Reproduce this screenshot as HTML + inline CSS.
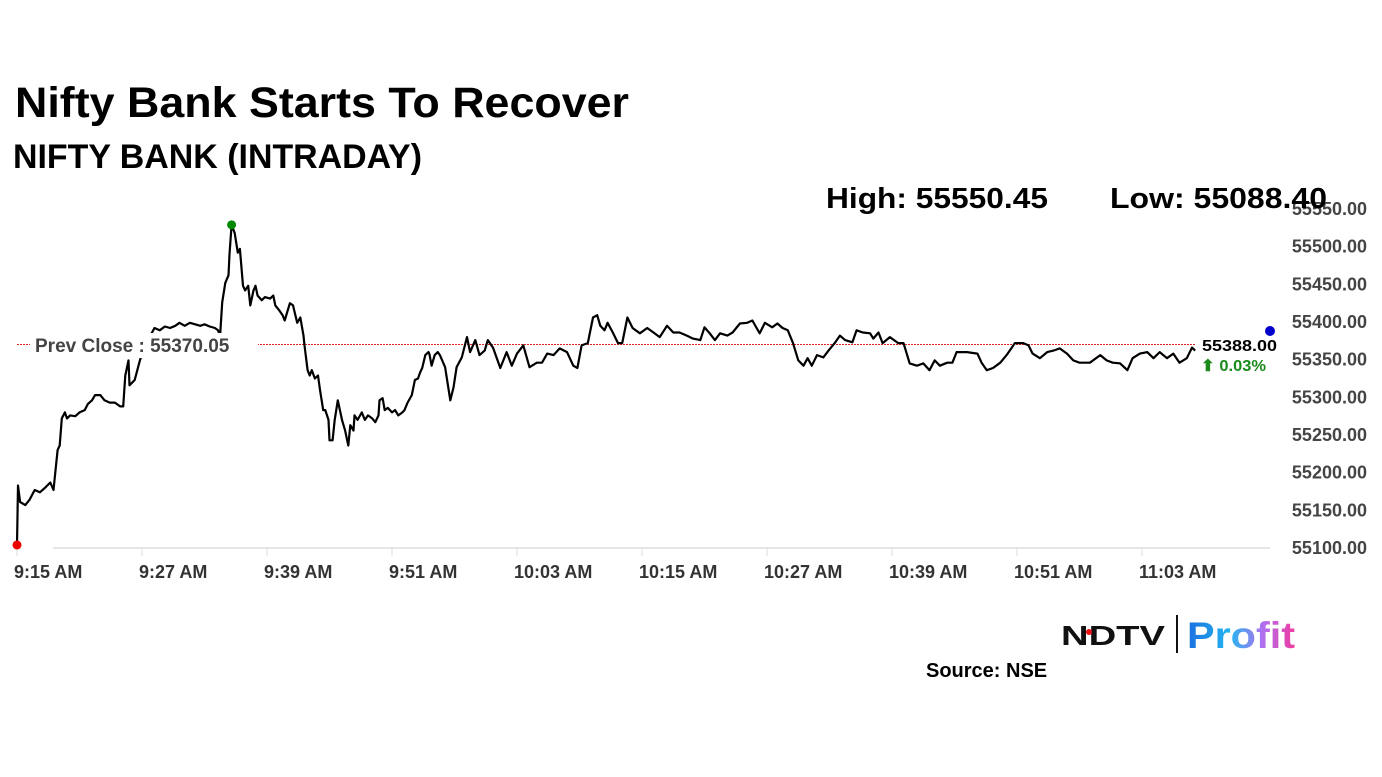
<!DOCTYPE html>
<html><head><meta charset="utf-8"><style>
html,body{margin:0;padding:0;background:#fff;}
svg{display:block;font-family:"Liberation Sans",sans-serif;}
</style></head><body>
<svg id="chart" width="1382" height="777" viewBox="0 0 1382 777" xmlns="http://www.w3.org/2000/svg">
<rect width="1382" height="777" fill="#fff"/>
<text x="15" y="117" font-size="43" font-weight="bold" fill="#000" textLength="614" lengthAdjust="spacingAndGlyphs">Nifty Bank Starts To Recover</text>
<text x="13" y="168" font-size="34" font-weight="bold" fill="#000" textLength="409" lengthAdjust="spacingAndGlyphs">NIFTY BANK (INTRADAY)</text>
<g id="yaxis"></g>
<g id="xaxis"></g>
<line x1="53" y1="548" x2="1270" y2="548" stroke="#ddd" stroke-width="1.5"/>
<line id="prevline" x1="17" x2="1195" stroke="#d22" stroke-width="1" stroke-dasharray="2,1"/>
<path id="priceLine" fill="none" stroke="#000" stroke-width="2.2" stroke-linejoin="round"/>
<rect x="30" y="333" width="228" height="25" fill="#fff"/>
<text x="35" y="352" font-size="19" font-weight="bold" fill="#444">Prev Close : 55370.05</text>
<g id="dots"></g>
<text x="826" y="208" font-size="29" font-weight="bold" fill="#000" textLength="222" lengthAdjust="spacingAndGlyphs">High: 55550.45</text>
<text x="1110" y="208" font-size="29" font-weight="bold" fill="#000" textLength="217" lengthAdjust="spacingAndGlyphs">Low: 55088.40</text>
<text x="1202" y="351" font-size="16" font-weight="bold" fill="#000" textLength="75" lengthAdjust="spacingAndGlyphs">55388.00</text>
<text x="1201" y="371" font-size="16" font-weight="bold" fill="#1a8a1a" textLength="65" lengthAdjust="spacingAndGlyphs">⬆ 0.03%</text>
<g>
<defs><linearGradient id="pg" x1="0" x2="1"><stop offset="0" stop-color="#1a6fe0"/><stop offset="0.4" stop-color="#25b5f0"/><stop offset="0.7" stop-color="#b070f0"/><stop offset="1" stop-color="#f03aa0"/></linearGradient></defs>
<text x="1061" y="645" font-size="28" font-weight="bold" fill="#111" textLength="104" lengthAdjust="spacingAndGlyphs">NDTV</text>
<circle cx="1089" cy="632" r="3" fill="#e11"/>
<line x1="1177" y1="615" x2="1177" y2="653" stroke="#111" stroke-width="2"/>
<text x="1187" y="648" font-size="37" font-weight="bold" fill="url(#pg)" textLength="108" lengthAdjust="spacingAndGlyphs">Profit</text>
</g>
<text x="926" y="677" font-size="20" font-weight="bold" fill="#000">Source: NSE</text>
</svg>
<script>
const yTicks=[55100,55150,55200,55250,55300,55350,55400,55450,55500,55550];
const xTickLabels=["9:15 AM","9:27 AM","9:39 AM","9:51 AM","10:03 AM","10:15 AM","10:27 AM","10:39 AM","10:51 AM","11:03 AM"];
const xTickMinutes=[0,12,24,36,48,60,72,84,96,108];
const prevClose=55370.05;
const minutes=[0,0.1,0.3,0.8,1.2,1.7,2.2,2.7,3.2,3.5,3.6,3.9,4.1,4.3,4.6,4.8,5.1,5.6,6.0,6.5,6.8,7.2,7.5,8.0,8.4,8.9,9.4,9.9,10.2,10.4,10.7,10.8,11.3,11.8,12.3,12.8,13.2,13.7,14.2,14.7,15.2,15.6,16.1,16.6,17.6,18.0,18.5,19.0,19.3,19.5,19.7,20.0,20.3,20.4,20.6,20.9,21.2,21.4,21.7,21.9,22.2,22.4,22.7,22.9,23.1,23.5,23.8,24.3,24.6,24.8,25.2,25.5,25.7,26.2,26.5,26.9,27.2,27.5,27.6,27.9,28.1,28.3,28.6,28.9,29.1,29.4,29.6,29.9,30.0,30.3,30.5,30.8,31.0,31.2,31.5,31.8,32.0,32.3,32.4,32.7,33.1,33.4,33.7,34.1,34.4,34.7,34.8,35.1,35.3,35.6,36.0,36.3,36.6,37.0,37.2,37.5,37.9,38.2,38.5,38.7,38.9,39.2,39.5,39.6,39.8,40.1,40.4,40.6,41.1,41.6,41.9,42.2,42.7,43.2,43.5,44.0,44.4,44.9,45.2,45.7,46.4,47.0,47.5,48.0,48.6,49.2,49.9,50.4,50.9,51.5,52.1,52.8,53.4,53.8,54.2,54.8,55.3,55.7,56.0,56.4,56.7,57.2,57.7,58.1,58.6,59.1,59.8,60.5,61.1,61.7,62.4,63.0,63.6,64.3,64.9,65.6,66.0,66.5,67.0,67.5,68.2,68.7,69.4,70.1,70.6,71.0,71.3,71.8,72.5,73.0,73.5,74.0,74.5,75.0,75.5,75.9,76.3,76.8,77.4,77.9,78.5,79.0,79.5,80.2,80.6,81.2,81.9,82.2,82.7,83.1,83.8,84.6,85.1,85.7,86.4,87.0,87.6,88.1,88.6,89.3,89.8,90.2,91.2,92.2,92.6,93.1,93.7,94.4,95.0,95.8,96.6,97.1,97.5,98.2,98.9,99.5,100.1,100.8,101.4,102.0,103.0,104.0,104.6,105.2,105.9,106.6,107.1,107.8,108.5,109.1,109.7,110.4,111.0,111.6,112.3,112.8,113.1];
const prices=[55104,55183,55161,55157,55164,55177,55174,55180,55187,55177,55190,55230,55236,55272,55280,55272,55276,55275,55280,55283,55291,55296,55303,55303,55296,55293,55293,55288,55288,55329,55349,55316,55323,55349,55369,55382,55392,55389,55394,55392,55395,55399,55395,55399,55395,55397,55394,55392,55389,55382,55426,55452,55462,55490,55529,55518,55492,55497,55448,55442,55448,55422,55442,55448,55435,55429,55433,55431,55435,55422,55415,55409,55402,55425,55422,55399,55406,55382,55369,55336,55329,55336,55325,55329,55309,55283,55283,55270,55243,55243,55270,55296,55283,55270,55256,55236,55263,55256,55276,55270,55280,55270,55276,55272,55267,55276,55296,55299,55283,55286,55280,55283,55276,55280,55283,55293,55303,55323,55325,55333,55339,55356,55360,55357,55342,55356,55360,55356,55340,55296,55313,55340,55353,55380,55360,55376,55356,55362,55376,55366,55339,55360,55342,55358,55369,55340,55346,55346,55358,55356,55365,55360,55342,55339,55369,55372,55406,55409,55395,55389,55399,55386,55372,55372,55406,55392,55385,55392,55386,55380,55395,55386,55386,55382,55378,55376,55393,55385,55376,55385,55382,55386,55398,55399,55402,55392,55385,55399,55393,55398,55392,55389,55372,55349,55342,55352,55342,55356,55353,55362,55372,55382,55376,55373,55389,55386,55385,55378,55386,55372,55380,55372,55372,55345,55342,55345,55336,55349,55342,55346,55346,55360,55360,55358,55346,55336,55339,55346,55356,55372,55372,55369,55358,55352,55360,55362,55365,55358,55349,55346,55346,55356,55349,55346,55345,55336,55352,55358,55360,55352,55360,55352,55358,55346,55352,55366,55362];

const NS="http://www.w3.org/2000/svg";
function xScale(m){return 17+m*(125/12);}
function yScale(v){return 548-(v-55100)*(339/450);}
const yAxis=document.getElementById('yaxis');
yTicks.forEach(v=>{
  const t=document.createElementNS(NS,'text');
  
  
  t.setAttribute('x',1367);t.setAttribute('y',yScale(v)+6);
  t.setAttribute('text-anchor','end');t.setAttribute('font-size','18');
  t.setAttribute('font-weight','bold');t.setAttribute('fill','#444');
  t.textContent=v.toFixed(2);yAxis.appendChild(t);
});
const xAxis=document.getElementById('xaxis');
xTickLabels.forEach((lab,i)=>{
  const x=xScale(xTickMinutes[i]);
  const l=document.createElementNS(NS,'line');
  
  
  l.setAttribute('x1',x);l.setAttribute('x2',x);l.setAttribute('y1',548);l.setAttribute('y2',556);
  l.setAttribute('stroke','#ddd');xAxis.appendChild(l);
  const t=document.createElementNS(NS,'text');
  
  
  t.setAttribute('x',x-3);t.setAttribute('y',578);
  t.setAttribute('font-size','18');t.setAttribute('font-weight','bold');t.setAttribute('fill','#333');
  t.textContent=lab;xAxis.appendChild(t);
});
const pl=document.getElementById('prevline');
pl.setAttribute('y1',yScale(prevClose));pl.setAttribute('y2',yScale(prevClose));
let d='';
minutes.forEach((m,i)=>{d+=(i?'L':'M')+xScale(m).toFixed(1)+','+yScale(prices[i]).toFixed(1);});
document.getElementById('priceLine').setAttribute('d',d);
const dots=document.getElementById('dots');
let lo=0,hi=0;prices.forEach((p,i)=>{if(p<prices[lo])lo=i;if(p>prices[hi])hi=i;});
[[lo,'#e00','low-marker'],[hi,'#080','high-marker']].forEach(([i,c,n])=>{
  const ci=document.createElementNS(NS,'circle');
  
  
  ci.setAttribute('cx',xScale(minutes[i]));ci.setAttribute('cy',yScale(prices[i]));
  ci.setAttribute('r',4.5);ci.setAttribute('fill',c);dots.appendChild(ci);
});
const bd=document.createElementNS(NS,'circle');


bd.setAttribute('cx',1270);bd.setAttribute('cy',331);bd.setAttribute('r',5);bd.setAttribute('fill','#00c');
dots.appendChild(bd);
</script>
</body></html>
